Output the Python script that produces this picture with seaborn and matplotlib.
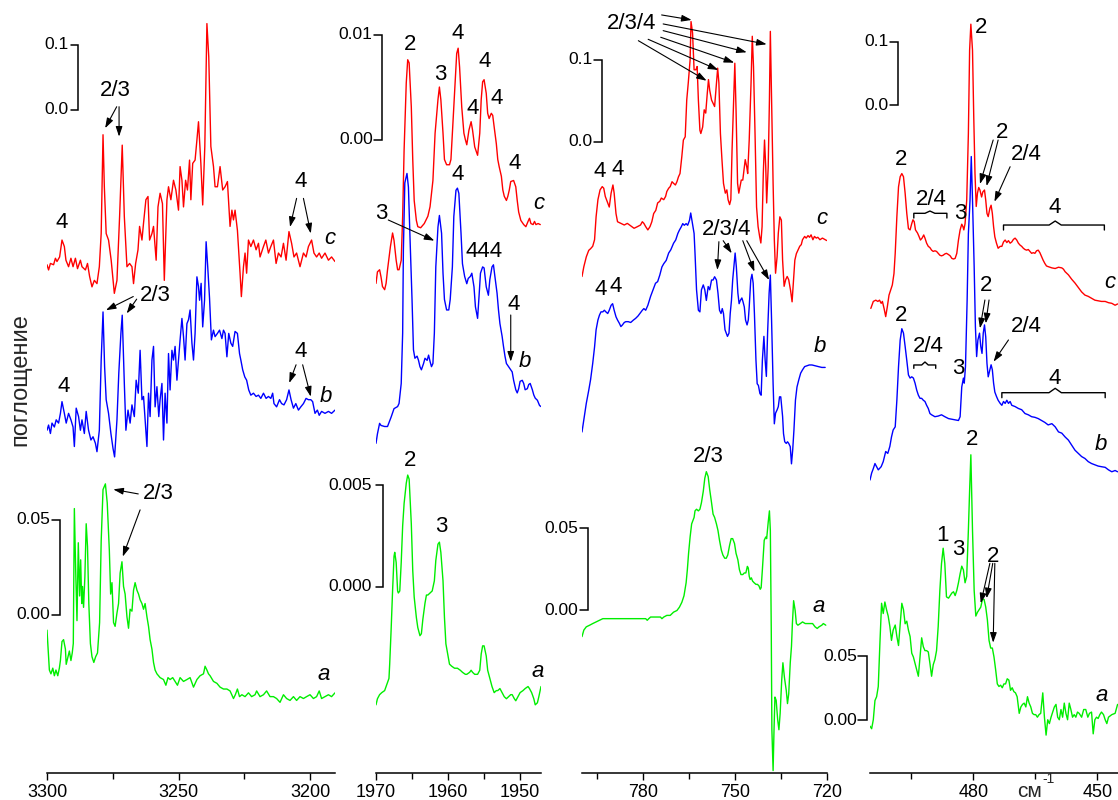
import numpy as np
import pandas as pd
import matplotlib
matplotlib.use("Agg")
import matplotlib.pyplot as plt
import seaborn as sns

sns.set_style("white")
plt.rcParams["font.family"] = ["Liberation Sans", "DejaVu Sans"]
plt.rcParams["axes.unicode_minus"] = False

# ---------------- 3300-3190 cm-1 region ----------------
ch_wn_c = [3300.0,3299.4,3298.7,3297.5,3296.8,3296.2,3295.2,3294.3,3293.4,3292.8,
           3291.8,3290.9,3290.1,3289.2,3288.4,3287.3,3286.7,3285.4,3284.6,3283.8,
           3282.9,3282.0,3281.0,3280.1,3279.4,3278.7,3278.2,3277.5,3276.6,3275.6,
           3274.4,3273.4,3272.4,3271.4,3270.6,3269.6,3268.6,3267.7,3267.1,3266.3,
           3265.4,3264.8,3263.9,3263.3,3262.4,3261.6,3261.0,3260.1,3259.5,3258.5,
           3257.8,3257.0,3256.1,3255.4,3254.4,3253.8,3252.9,3251.9,3251.0,3250.0,
           3249.4,3248.7,3248.1,3247.3,3246.6,3245.8,3245.3,3244.6,3243.7,3243.0,
           3242.4,3241.5,3240.8,3240.0,3239.2,3238.5,3237.7,3236.7,3236.1,3235.2,
           3234.2,3233.2,3232.3,3231.4,3230.4,3229.7,3229.1,3228.5,3227.6,3226.6,
           3226.1,3225.3,3224.7,3224.1,3223.4,3222.5,3221.5,3220.5,3219.6,3219.0,
           3217.7,3216.8,3215.8,3214.9,3213.9,3212.9,3212.0,3211.0,3210.1,3209.1,
           3208.0,3207.0,3206.1,3205.1,3203.8,3202.5,3201.5,3200.6,3199.4,3198.5,
           3197.5,3196.5,3195.6,3194.3,3193.0,3191.8,3190.5]
ch_c = [0.003,-0.005,0.005,0.003,0.013,0.008,0.015,0.041,0.031,0.010,
        0.0,0.013,0.0,0.013,-0.003,0.010,0.0,-0.005,0.005,-0.015,
        -0.031,-0.021,-0.026,0.0,0.051,0.203,0.123,0.051,0.041,0.010,
        -0.041,-0.021,0.077,0.187,0.077,0.0,0.005,0.0,-0.026,0.005,
        0.026,0.062,0.041,0.067,0.103,0.108,0.041,0.051,0.062,0.010,
        0.092,0.113,0.097,-0.021,0.103,0.123,0.103,0.133,0.118,0.087,
        0.154,0.133,0.092,0.133,0.118,0.164,0.103,0.159,0.164,0.195,
        0.223,0.159,0.095,0.185,0.374,0.323,0.185,0.154,0.123,0.123,
        0.154,0.118,0.123,0.131,0.062,0.087,0.072,0.087,0.056,-0.010,
        -0.046,0.0,0.021,-0.010,0.041,0.031,0.041,0.026,0.036,0.015,
        0.031,0.041,0.021,0.031,0.041,0.005,0.021,0.015,0.036,0.010,
        0.054,0.036,0.015,0.021,0.0,0.021,0.015,0.031,0.041,0.021,
        0.015,0.021,0.013,0.021,0.010,0.015,0.008]

ch_wn_b = [3300.0,3299.4,3298.7,3298.1,3297.2,3296.5,3295.6,3294.9,3294.3,3293.4,
           3292.7,3291.8,3290.9,3290.1,3289.6,3288.9,3288.0,3287.3,3286.7,3285.8,
           3285.1,3284.2,3283.3,3282.5,3281.6,3281.0,3280.1,3279.4,3278.7,3278.1,
           3277.5,3276.6,3275.7,3274.9,3274.3,3273.4,3272.7,3271.9,3271.4,3270.6,
           3270.0,3269.2,3268.4,3267.7,3266.8,3266.1,3265.3,3264.6,3263.9,3263.3,
           3262.7,3262.0,3261.4,3260.8,3260.1,3259.5,3258.9,3258.2,3257.5,3257.0,
           3256.3,3255.7,3255.1,3254.4,3253.8,3253.2,3252.5,3251.9,3251.3,3250.6,
           3250.0,3249.4,3248.7,3248.1,3247.5,3246.8,3246.2,3245.6,3244.9,3244.3,
           3243.7,3243.0,3242.4,3242.0,3241.4,3240.8,3240.1,3239.5,3238.9,3238.2,
           3237.5,3236.7,3236.1,3235.2,3234.4,3233.5,3232.9,3232.3,3231.6,3230.9,
           3230.1,3229.4,3228.5,3227.6,3226.8,3226.3,3225.6,3224.8,3224.1,3223.3,
           3222.5,3221.5,3220.5,3219.6,3218.7,3217.7,3216.7,3215.8,3214.9,3214.2,
           3213.7,3212.7,3211.6,3210.8,3209.9,3208.9,3208.0,3207.2,3206.3,3205.4,
           3204.4,3203.5,3202.5,3201.5,3200.6,3199.7,3199.0,3198.1,3197.2,3196.5,
           3195.6,3194.3,3193.0,3191.8,3190.5]
ch_b = [-0.026,-0.018,-0.031,-0.015,-0.021,-0.010,-0.015,0.0,0.018,0.0,
        -0.015,0.0,-0.010,-0.021,-0.051,0.008,-0.005,-0.026,-0.010,-0.031,
        0.003,-0.026,-0.041,-0.036,-0.046,-0.059,-0.026,0.082,0.156,0.072,
        0.021,0.0,-0.031,-0.054,-0.067,-0.010,0.062,0.123,0.151,0.046,
        -0.026,0.005,-0.015,0.013,-0.005,0.051,0.031,0.097,0.021,0.026,
        -0.010,-0.051,0.031,-0.005,0.082,0.103,0.010,0.041,-0.005,0.021,
        0.046,-0.041,0.031,-0.015,0.092,0.036,0.097,0.082,0.103,0.051,
        0.082,0.113,0.146,0.118,0.082,0.138,0.144,0.159,0.108,0.082,
        0.123,0.210,0.195,0.174,0.200,0.133,0.174,0.264,0.226,0.177,
        0.113,0.128,0.118,0.123,0.128,0.115,0.128,0.123,0.087,0.123,
        0.108,0.103,0.126,0.123,0.092,0.082,0.067,0.056,0.051,0.036,
        0.028,0.031,0.026,0.028,0.023,0.031,0.023,0.026,0.023,0.031,
        0.015,0.010,0.021,0.015,0.013,0.021,0.036,0.021,0.008,0.015,
        0.005,0.010,0.015,0.023,0.021,0.021,0.018,0.0,0.005,-0.003,
        0.003,0.0,0.003,0.0,0.005]

ch_wn_a = [3300.0,3299.6,3299.1,3298.5,3297.8,3297.2,3296.6,3295.9,3295.3,3294.9,
           3294.3,3293.7,3293.0,3292.7,3292.0,3291.5,3290.9,3290.4,3290.0,3289.6,
           3289.1,3288.6,3288.1,3287.6,3287.2,3286.8,3286.5,3286.1,3285.6,3285.1,
           3284.6,3284.1,3283.5,3282.9,3282.2,3281.5,3280.8,3280.0,3279.4,3278.7,
           3277.8,3277.1,3276.3,3275.8,3275.3,3274.7,3274.1,3273.4,3272.8,3272.2,
           3271.5,3270.9,3270.3,3269.6,3269.0,3268.4,3267.7,3267.1,3266.5,3265.8,
           3265.2,3264.6,3263.9,3263.3,3262.7,3262.0,3261.4,3260.8,3260.1,3259.5,
           3258.9,3258.2,3257.0,3255.7,3254.8,3254.0,3253.2,3252.2,3251.3,3250.4,
           3249.4,3248.1,3246.8,3245.6,3244.3,3243.0,3241.8,3240.5,3239.9,3239.2,
           3238.6,3238.0,3236.7,3235.4,3234.2,3232.9,3231.6,3230.4,3229.1,3228.4,
           3227.6,3226.8,3225.9,3224.7,3223.4,3222.2,3220.9,3220.3,3219.0,3217.7,
           3216.5,3215.2,3213.9,3212.7,3211.4,3210.1,3208.9,3207.6,3206.3,3205.1,
           3203.8,3202.5,3201.3,3200.0,3198.7,3197.5,3196.5,3195.6,3194.3,3193.0,
           3191.8,3190.5]
ch_a = [0.035,0.026,0.014,0.012,0.015,0.011,0.014,0.011,0.015,0.019,
        0.029,0.030,0.025,0.017,0.021,0.024,0.019,0.023,0.028,0.099,
        0.067,0.040,0.081,0.053,0.072,0.049,0.058,0.047,0.063,0.091,
        0.079,0.049,0.028,0.021,0.018,0.021,0.023,0.039,0.082,0.109,
        0.112,0.102,0.077,0.054,0.060,0.039,0.037,0.044,0.049,0.065,
        0.071,0.058,0.054,0.042,0.036,0.046,0.045,0.056,0.060,0.056,
        0.054,0.051,0.049,0.046,0.049,0.042,0.037,0.030,0.025,0.018,
        0.014,0.012,0.010,0.009,0.006,0.010,0.009,0.010,0.008,0.006,
        0.010,0.008,0.009,0.010,0.005,0.009,0.011,0.012,0.016,0.014,
        0.012,0.011,0.008,0.007,0.005,0.004,0.004,0.003,-0.001,0.001,
        0.004,0.0,0.001,0.0,0.002,0.0,0.001,0.003,0.0,0.001,
        0.003,0.0,0.0,-0.001,-0.003,0.001,-0.001,-0.002,0.0,-0.002,
        0.0,-0.001,0.0,0.001,-0.001,0.0,0.003,-0.001,0.0,0.001,
        0.0,0.002]

# ---------------- 1970-1947 cm-1 region ----------------
co_wn_c = [1970.0,1969.8,1969.5,1969.3,1969.1,1968.8,1968.6,1968.4,1968.0,1967.7,
           1967.5,1967.2,1967.0,1966.8,1966.5,1966.3,1966.1,1965.8,1965.6,1965.4,
           1965.1,1964.9,1964.7,1964.4,1964.2,1963.8,1963.3,1962.8,1962.5,1962.1,
           1961.8,1961.4,1961.2,1961.0,1960.7,1960.5,1960.2,1959.8,1959.6,1959.4,
           1959.1,1958.8,1958.6,1958.4,1958.1,1957.8,1957.6,1957.4,1957.1,1956.8,
           1956.6,1956.3,1955.9,1955.6,1955.4,1955.2,1955.0,1954.7,1954.5,1954.3,
           1954.0,1953.8,1953.6,1953.3,1953.1,1952.9,1952.6,1952.4,1952.2,1951.9,
           1951.7,1951.5,1951.3,1950.9,1950.6,1950.4,1950.2,1949.9,1949.5,1949.2,
           1948.9,1948.7,1948.5,1948.2,1948.0,1947.8,1947.5,1947.2]
co_c = [-0.0054,-0.0043,-0.0041,-0.0048,-0.0057,-0.0060,-0.0054,-0.0041,-0.0019,-0.0006,
        -0.0013,-0.0032,-0.0041,-0.0041,-0.0032,0.0010,0.0073,0.0137,0.0159,0.0156,
        0.0114,0.0064,0.0025,0.0006,0.0,-0.0001,0.0003,0.0010,0.0019,0.0044,
        0.0089,0.0121,0.0133,0.0121,0.0089,0.0064,0.0059,0.0059,0.0064,0.0089,
        0.0127,0.0165,0.0170,0.0152,0.0114,0.0089,0.0083,0.0078,0.0092,0.0100,
        0.0092,0.0076,0.0068,0.0089,0.0121,0.0138,0.0140,0.0127,0.0108,0.0103,
        0.0108,0.0106,0.0095,0.0079,0.0064,0.0057,0.0048,0.0035,0.0029,0.0025,
        0.0029,0.0035,0.0043,0.0044,0.0038,0.0025,0.0014,0.0006,0.0002,0.0,
        0.0005,0.0008,0.0003,0.0002,0.0005,0.0002,0.0003,0.0002]

co_wn_b = [1970.0,1969.8,1969.5,1969.3,1968.8,1968.4,1967.9,1967.5,1967.0,1966.8,
           1966.5,1966.3,1966.2,1966.0,1965.7,1965.5,1965.3,1965.0,1964.8,1964.6,
           1964.3,1964.1,1963.9,1963.7,1963.4,1963.2,1962.9,1962.7,1962.5,1962.3,
           1962.1,1961.9,1961.7,1961.4,1961.2,1960.9,1960.7,1960.5,1960.2,1959.9,
           1959.7,1959.4,1959.2,1958.9,1958.7,1958.5,1958.2,1958.0,1957.7,1957.4,
           1957.2,1956.9,1956.7,1956.4,1956.2,1955.9,1955.7,1955.5,1955.2,1955.0,
           1954.7,1954.4,1954.2,1953.9,1953.7,1953.5,1953.2,1953.0,1952.8,1952.5,
           1952.3,1952.1,1951.9,1951.6,1951.4,1951.1,1950.9,1950.6,1950.4,1950.2,
           1950.0,1949.7,1949.5,1949.3,1949.0,1948.8,1948.6,1948.3,1948.1,1947.9,
           1947.6,1947.3,1947.1]
co_b = [-0.0073,-0.0064,-0.0054,-0.0056,-0.0057,-0.0057,-0.0048,-0.0040,-0.0038,-0.0035,
        -0.0016,0.0032,0.0111,0.0175,0.0184,0.0171,0.0127,0.0064,0.0016,0.0008,
        0.0010,0.0006,0.0,-0.0003,0.0003,0.0008,0.0006,0.0011,0.0005,0.0,
        0.0003,0.0032,0.0095,0.0133,0.0144,0.0127,0.0089,0.0064,0.0054,0.0054,
        0.0064,0.0095,0.0143,0.0168,0.0170,0.0165,0.0127,0.0098,0.0086,0.0079,
        0.0084,0.0086,0.0089,0.0076,0.0057,0.0046,0.0067,0.0089,0.0095,0.0094,
        0.0076,0.0068,0.0083,0.0095,0.0097,0.0086,0.0070,0.0054,0.0041,0.0029,
        0.0019,0.0010,0.0003,0.0,-0.0002,-0.0005,-0.0013,-0.0022,-0.0025,-0.0021,
        -0.0014,-0.0013,-0.0016,-0.0022,-0.0021,-0.0017,-0.0016,-0.0022,-0.0027,-0.0030,
        -0.0032,-0.0037,-0.0038]

co_wn_a = [1970.0,1969.8,1969.5,1969.2,1968.8,1968.5,1968.2,1968.1,1967.9,1967.7,
           1967.5,1967.4,1967.2,1967.0,1966.9,1966.7,1966.5,1966.3,1966.1,1965.8,
           1965.6,1965.4,1965.1,1964.9,1964.7,1964.4,1964.2,1963.9,1963.7,1963.5,
           1963.2,1963.0,1962.8,1962.5,1962.2,1961.9,1961.7,1961.4,1961.2,1961.0,
           1960.7,1960.5,1960.3,1960.0,1959.8,1959.5,1959.1,1958.7,1958.3,1958.0,
           1957.6,1957.4,1957.0,1956.8,1956.6,1956.3,1955.9,1955.6,1955.4,1955.2,
           1955.0,1954.7,1954.5,1954.2,1953.9,1953.6,1953.3,1953.1,1952.8,1952.5,
           1952.2,1951.9,1951.6,1951.3,1951.1,1950.8,1950.6,1950.3,1950.0,1949.6,
           1949.3,1948.9,1948.7,1948.4,1948.1,1947.9,1947.6,1947.4,1947.1]
co_a = [-0.0004,-0.0001,0.0001,0.0002,0.0003,0.0006,0.0009,0.0016,0.0033,0.0052,
        0.0069,0.0071,0.0066,0.0052,0.0051,0.0052,0.0066,0.0084,0.0095,0.0105,
        0.0109,0.0107,0.0085,0.0062,0.0049,0.0039,0.0034,0.0030,0.0031,0.0038,
        0.0046,0.0050,0.0050,0.0051,0.0052,0.0057,0.0067,0.0075,0.0076,0.0071,
        0.0057,0.0039,0.0026,0.0020,0.0016,0.0015,0.0014,0.0014,0.0013,0.0012,
        0.0011,0.0011,0.0012,0.0013,0.0012,0.0011,0.0011,0.0013,0.0021,0.0025,
        0.0025,0.0020,0.0013,0.0009,0.0005,0.0002,0.0003,0.0003,0.0004,0.0002,
        0.0,-0.0001,0.0,0.0001,0.0001,-0.0001,-0.0002,0.0,0.0002,0.0003,
        0.0004,0.0005,0.0004,0.0002,-0.0001,-0.0004,-0.0003,0.0,0.0005]

# ---------------- 800-720 cm-1 region ----------------
cf_wn_c = [800.0,799.4,798.6,797.8,797.2,796.5,795.9,795.4,794.8,794.1,
           793.4,792.9,792.4,791.6,791.1,790.5,789.9,789.5,788.9,788.4,
           787.3,786.2,785.2,784.1,783.0,781.9,780.9,780.3,779.8,779.2,
           778.5,777.8,777.2,776.6,775.9,775.3,774.6,774.1,773.3,772.7,
           772.3,771.7,771.2,770.6,770.1,769.5,769.0,768.5,768.0,767.4,
           766.9,766.3,765.8,765.3,764.7,764.4,763.9,763.4,762.8,762.4,
           762.0,761.5,761.2,760.6,760.1,759.6,759.1,758.7,758.3,757.7,
           757.2,756.7,756.1,755.7,755.3,754.8,754.3,753.8,753.2,752.7,
           752.3,751.8,751.4,751.0,750.5,750.1,749.7,749.2,748.8,748.4,
           748.0,747.5,747.1,746.7,746.2,745.9,745.4,744.8,744.4,744.0,
           743.5,743.0,742.5,742.0,741.6,741.2,740.8,740.4,740.0,739.7,
           739.2,738.8,738.5,738.1,737.6,737.2,736.8,736.3,735.9,735.4,
           734.9,734.5,734.0,733.5,733.0,732.5,731.9,731.4,731.0,730.5,
           730.0,729.5,728.9,728.4,728.0,727.3,726.8,726.2,725.7,725.2,
           724.6,724.1,723.5,723.0,722.3,721.5,720.6,720.1]
cf_c = [-0.061,-0.049,-0.037,-0.029,-0.027,-0.024,-0.016,0.012,0.033,0.045,
        0.049,0.047,0.037,0.029,0.024,0.041,0.051,0.041,0.016,0.006,
        0.004,0.002,0.004,0.001,-0.002,0.0,0.002,0.006,0.004,0.0,
        -0.004,0.0,0.006,0.016,0.020,0.029,0.031,0.035,0.033,0.037,
        0.043,0.047,0.049,0.055,0.053,0.051,0.055,0.061,0.065,0.086,
        0.106,0.110,0.155,0.176,0.204,0.251,0.237,0.192,0.192,0.196,
        0.155,0.118,0.114,0.122,0.143,0.139,0.163,0.180,0.167,0.155,
        0.151,0.147,0.176,0.194,0.176,0.114,0.082,0.053,0.041,0.045,
        0.033,0.027,0.033,0.094,0.155,0.200,0.143,0.053,0.041,0.049,
        0.057,0.057,0.069,0.082,0.073,0.065,0.106,0.176,0.233,0.196,
        0.114,0.024,0.0,-0.012,-0.020,0.0,0.065,0.106,0.073,0.029,
        0.073,0.155,0.239,0.155,0.053,-0.016,-0.057,-0.037,-0.008,0.012,
        0.008,-0.041,-0.073,-0.065,-0.061,-0.065,-0.078,-0.092,-0.069,-0.041,
        -0.033,-0.029,-0.024,-0.022,-0.016,-0.012,-0.014,-0.011,-0.013,-0.010,
        -0.016,-0.012,-0.014,-0.013,-0.016,-0.014,-0.016,-0.017]

cf_wn_b = [800.0,799.4,798.6,797.8,797.2,796.5,795.9,795.4,794.8,794.3,
           793.8,793.2,792.7,792.2,791.6,791.1,790.5,790.0,789.5,788.9,
           788.4,787.8,787.3,786.8,786.2,785.7,784.9,784.1,783.2,782.5,
           781.7,781.1,780.3,779.8,779.2,778.5,777.6,776.8,776.0,775.3,
           774.6,773.9,773.3,772.5,771.7,771.0,770.1,769.4,768.7,768.2,
           767.6,767.1,766.6,766.0,765.5,764.9,764.5,764.1,763.4,763.1,
           762.6,762.0,761.5,761.0,760.4,759.9,759.4,758.8,758.3,757.7,
           757.2,756.7,756.1,755.6,755.1,754.6,754.2,753.8,753.3,752.9,
           752.5,752.0,751.6,751.2,750.8,750.3,750.0,749.6,749.1,748.7,
           748.3,747.8,747.4,747.0,746.6,746.1,745.7,745.4,744.9,744.5,
           744.1,743.7,743.2,742.8,742.4,741.9,741.5,741.1,740.6,740.2,
           739.8,739.4,738.9,738.5,738.1,737.6,737.2,736.8,736.3,735.9,
           735.5,735.1,734.5,734.2,733.8,733.3,732.9,732.5,732.0,731.6,
           731.2,730.8,730.3,729.8,729.2,728.6,728.0,727.3,726.6,725.8,
           724.9,723.9,722.8,721.7,720.6]
cf_b = [-0.137,-0.122,-0.102,-0.086,-0.073,-0.053,-0.033,-0.012,0.0,0.006,
        0.010,0.010,0.012,0.010,0.008,0.012,0.018,0.020,0.012,0.004,
        0.0,-0.004,-0.008,-0.006,-0.003,-0.002,-0.002,-0.003,0.0,0.002,
        0.005,0.008,0.012,0.014,0.012,0.018,0.029,0.037,0.045,0.047,
        0.055,0.065,0.069,0.073,0.082,0.086,0.094,0.098,0.106,0.110,
        0.114,0.118,0.116,0.118,0.116,0.122,0.131,0.122,0.106,0.082,
        0.037,0.012,0.010,0.037,0.043,0.037,0.024,0.041,0.037,0.049,
        0.049,0.053,0.049,0.033,0.012,0.008,0.014,0.008,-0.012,-0.016,
        -0.020,-0.016,0.008,0.024,0.049,0.069,0.082,0.065,0.033,0.020,
        0.024,0.027,0.022,0.016,0.0,-0.006,0.0,0.016,0.049,0.056,
        0.045,0.008,-0.049,-0.078,-0.080,-0.090,-0.092,-0.049,-0.020,-0.049,
        -0.069,-0.016,0.033,0.055,0.0,-0.078,-0.127,-0.114,-0.110,-0.106,
        -0.094,-0.094,-0.118,-0.139,-0.149,-0.151,-0.149,-0.151,-0.155,-0.176,
        -0.159,-0.135,-0.098,-0.082,-0.073,-0.065,-0.061,-0.057,-0.056,-0.055,
        -0.055,-0.056,-0.057,-0.058,-0.058]

cf_wn_a = [800.0,799.4,798.6,797.5,796.5,795.4,794.3,793.2,792.2,791.1,
           790.0,788.9,787.8,786.8,785.7,784.6,783.5,782.5,781.4,780.3,
           779.2,778.7,778.2,777.6,776.6,775.5,774.4,773.9,773.3,772.3,
           771.2,770.1,769.0,768.2,767.4,766.7,766.0,765.6,765.2,764.7,
           764.2,763.4,763.1,762.6,762.0,761.5,761.0,760.4,759.9,759.4,
           758.8,758.3,757.7,757.2,756.7,756.1,755.6,755.1,754.5,754.0,
           753.4,752.9,752.4,751.8,751.3,750.8,750.2,749.7,749.1,748.6,
           748.1,747.5,747.0,746.5,746.0,745.7,745.4,745.1,744.7,744.3,
           743.8,743.2,742.7,742.2,741.8,741.5,741.1,740.5,740.0,739.7,
           739.2,738.8,738.5,738.2,738.0,737.6,737.3,737.0,736.6,736.1,
           735.7,735.3,734.8,734.4,733.9,733.3,732.9,732.5,732.0,731.6,
           731.3,730.9,730.4,730.0,729.5,728.7,728.0,727.1,726.2,725.5,
           724.7,723.9,723.2,722.6,721.7,721.2,720.4]
cf_a = [-0.011,-0.007,-0.005,-0.004,-0.003,-0.002,-0.001,0.0,0.0,0.0,
        0.0,0.0,0.0,0.0,0.0,0.0,0.0,0.0,0.0,0.0,
        0.0,-0.001,0.0,0.001,0.001,0.001,0.001,0.0,0.001,0.002,
        0.002,0.004,0.005,0.007,0.010,0.014,0.022,0.030,0.040,0.050,
        0.058,0.062,0.066,0.067,0.066,0.067,0.071,0.078,0.086,0.090,
        0.087,0.079,0.071,0.064,0.062,0.058,0.054,0.048,0.042,0.039,
        0.037,0.037,0.039,0.045,0.049,0.049,0.046,0.040,0.036,0.030,
        0.027,0.027,0.028,0.028,0.032,0.031,0.026,0.024,0.025,0.023,
        0.022,0.021,0.021,0.020,0.018,0.019,0.030,0.048,0.050,0.049,
        0.059,0.066,0.054,-0.007,-0.068,-0.093,-0.068,-0.048,-0.050,-0.062,
        -0.068,-0.058,-0.038,-0.027,-0.036,-0.044,-0.052,-0.046,-0.027,-0.017,
        -0.003,0.011,0.005,-0.003,-0.004,-0.003,-0.002,-0.003,-0.003,-0.003,
        -0.003,-0.005,-0.006,-0.005,-0.004,-0.003,-0.004]

# ---------------- 505-445 cm-1 region ----------------
low_wn_c = [504.8,504.2,503.6,503.1,502.7,502.3,502.0,501.6,501.2,500.8,
            500.4,500.0,499.6,499.2,498.9,498.5,498.1,497.7,497.3,496.9,
            496.5,496.1,495.7,495.3,494.9,494.6,494.3,494.0,493.5,493.1,
            492.8,492.4,492.0,491.7,491.3,490.9,490.5,490.1,489.7,489.3,
            488.9,488.5,488.1,487.7,487.3,486.9,486.5,486.0,485.6,485.2,
            484.8,484.4,484.0,483.6,483.2,482.8,482.5,482.3,482.0,481.6,
            481.2,480.9,480.6,480.2,479.9,479.6,479.3,479.0,478.7,478.4,
            478.0,477.7,477.3,477.0,476.7,476.4,476.0,475.7,475.4,475.1,
            474.8,474.4,474.0,473.5,473.1,472.7,472.3,471.9,471.5,471.1,
            470.7,470.3,469.9,469.5,469.1,468.7,468.3,467.9,467.5,467.1,
            466.7,466.3,465.9,465.5,465.1,464.7,464.3,463.9,463.5,463.1,
            462.7,462.3,461.9,461.0,460.2,459.4,458.6,458.2,457.8,457.0,
            456.2,455.4,454.6,453.8,453.0,452.2,451.4,450.6,449.8,449.0,
            448.1,447.3,446.5,445.7,445.1]
low_c = [-0.087,-0.076,-0.074,-0.076,-0.074,-0.079,-0.076,-0.087,-0.100,-0.084,
         -0.066,-0.058,-0.050,-0.032,0.0,0.058,0.105,0.121,0.126,0.121,
         0.095,0.063,0.039,0.037,0.047,0.053,0.050,0.037,0.032,0.026,
         0.021,0.024,0.029,0.024,0.016,0.011,0.009,0.005,0.003,0.004,
         0.003,0.0,-0.003,-0.004,-0.003,-0.001,0.0,-0.002,-0.004,-0.008,
         -0.009,-0.008,0.0,0.021,0.037,0.046,0.042,0.037,0.047,0.084,
         0.189,0.321,0.362,0.321,0.216,0.126,0.074,0.095,0.104,0.100,
         0.089,0.097,0.100,0.084,0.063,0.058,0.071,0.076,0.063,0.042,
         0.026,0.016,0.008,0.011,0.011,0.018,0.021,0.017,0.020,0.016,
         0.018,0.022,0.024,0.021,0.016,0.013,0.011,0.008,0.006,0.005,
         0.006,0.003,0.0,0.001,0.0,0.004,0.005,0.001,-0.005,-0.011,
         -0.016,-0.020,-0.021,-0.023,-0.024,-0.022,-0.023,-0.025,-0.029,-0.034,
         -0.041,-0.047,-0.054,-0.061,-0.066,-0.068,-0.071,-0.074,-0.075,-0.076,
         -0.076,-0.078,-0.079,-0.082,-0.080]

low_wn_b = [505.0,504.6,504.2,503.8,503.4,503.0,502.3,501.8,501.2,500.7,
            500.2,499.8,499.4,498.9,498.5,498.1,497.7,497.3,496.9,496.5,
            496.1,495.7,495.3,494.9,494.5,494.1,493.7,493.3,492.9,492.5,
            492.1,491.7,491.3,490.9,490.5,490.1,489.3,488.5,487.7,486.9,
            486.0,485.2,484.4,483.6,483.2,482.8,482.4,482.2,481.9,481.5,
            481.2,480.8,480.5,480.2,479.8,479.5,479.2,478.9,478.5,478.2,
            477.9,477.6,477.3,477.0,476.7,476.4,476.0,475.7,475.4,475.1,
            474.8,474.4,474.0,473.5,473.1,472.7,472.3,471.9,471.5,471.1,
            470.7,469.9,469.1,468.3,467.5,466.7,465.9,465.1,464.3,463.5,
            462.7,461.9,461.0,460.2,459.4,458.6,457.8,457.0,456.2,455.4,
            454.6,453.8,453.0,452.2,451.4,450.6,449.8,449.0,448.1,447.3,
            446.5,445.7,445.1]
low_b = [-0.100,-0.089,-0.082,-0.074,-0.079,-0.084,-0.079,-0.071,-0.055,-0.058,
         -0.047,-0.032,-0.021,-0.016,0.026,0.079,0.121,0.139,0.132,0.111,
         0.089,0.066,0.061,0.063,0.061,0.053,0.042,0.034,0.029,0.029,
         0.026,0.024,0.018,0.013,0.005,0.003,0.0,0.001,0.003,0.0,
         -0.003,-0.004,-0.005,-0.006,0.0,0.047,0.061,0.053,0.079,0.184,
         0.289,0.342,0.411,0.342,0.237,0.142,0.095,0.121,0.132,0.111,
         0.100,0.132,0.145,0.126,0.084,0.063,0.074,0.082,0.074,0.053,
         0.039,0.032,0.026,0.021,0.018,0.024,0.021,0.026,0.021,0.024,
         0.018,0.016,0.013,0.011,0.005,0.003,0.0,-0.001,-0.003,-0.006,
         -0.009,-0.013,-0.011,-0.016,-0.024,-0.026,-0.032,-0.037,-0.045,-0.053,
         -0.058,-0.063,-0.066,-0.071,-0.074,-0.076,-0.078,-0.079,-0.080,-0.084,
         -0.087,-0.085,-0.087]

low_wn_a = [505.0,504.6,504.2,503.8,503.4,503.0,502.6,502.2,501.8,501.4,
            501.0,500.6,500.2,499.8,499.4,498.9,498.5,498.1,497.7,497.3,
            496.9,496.5,496.1,495.7,495.3,494.9,494.5,494.1,493.7,493.3,
            492.9,492.5,492.1,491.7,491.3,490.9,490.5,490.1,489.7,489.3,
            488.9,488.5,488.1,487.7,487.3,486.9,486.5,486.0,485.6,485.2,
            484.8,484.4,484.0,483.6,483.2,482.8,482.4,482.0,481.6,481.2,
            480.9,480.6,480.2,479.8,479.4,479.0,478.6,478.2,477.8,477.4,
            477.0,476.6,476.2,475.8,475.4,475.0,474.6,474.2,473.8,473.4,
            473.0,472.6,472.2,471.8,471.4,471.0,470.6,470.2,469.8,469.4,
            468.9,468.5,468.1,467.7,467.3,466.9,466.5,466.1,465.7,465.3,
            464.9,464.5,464.1,463.7,463.2,462.8,462.4,462.0,461.6,461.2,
            460.8,460.4,460.0,459.6,459.2,458.8,458.4,458.0,457.6,457.2,
            456.8,456.4,456.0,455.6,455.2,454.8,454.4,453.8,453.3,452.8,
            452.3,451.9,451.4,451.0,450.6,450.2,449.8,449.4,449.0,448.5,
            448.1,447.7,447.3,446.5,445.7,445.1]
low_a = [-0.010,-0.012,-0.005,0.010,0.013,0.021,0.055,0.086,0.078,0.087,
         0.081,0.076,0.068,0.057,0.065,0.069,0.060,0.053,0.070,0.086,
         0.081,0.070,0.072,0.065,0.060,0.047,0.044,0.039,0.034,0.029,
         0.044,0.059,0.052,0.049,0.049,0.048,0.039,0.029,0.038,0.042,
         0.049,0.068,0.096,0.117,0.129,0.117,0.091,0.090,0.092,0.094,
         0.095,0.092,0.096,0.102,0.109,0.115,0.112,0.102,0.107,0.143,
         0.174,0.202,0.143,0.096,0.076,0.079,0.081,0.083,0.089,0.089,
         0.083,0.073,0.057,0.051,0.051,0.044,0.034,0.023,0.021,0.022,
         0.020,0.023,0.023,0.027,0.026,0.018,0.020,0.017,0.016,0.013,
         0.0,0.005,0.007,0.008,0.005,0.013,0.008,0.005,0.0,-0.001,
         -0.001,-0.003,-0.001,0.0,0.016,-0.003,-0.017,-0.005,-0.008,-0.003,
         0.001,0.005,0.007,-0.003,-0.005,0.003,-0.003,0.008,0.0,-0.005,
         0.008,0.003,-0.003,-0.001,-0.003,0.001,0.0,-0.003,0.003,0.003,
         -0.003,0.0,0.001,-0.016,-0.005,-0.003,-0.004,-0.001,0.001,-0.001,
         -0.005,-0.008,-0.003,-0.001,0.0,0.007]

# ---------------- figure layout ----------------
RED, BLUE, GREEN = "#ff0000", "#0000ff", "#00ee00"
FIG_W, FIG_H = 1118, 800
AX_BOTTOM_PX = 773
NUM_FS, SCALE_FS, TICK_FS = 16, 12.5, 13

panels = [
    dict(px=(47, 335), xlim=(3300, 3190.5), major=[3300, 3250, 3200], minor=[3275, 3225],
         ylim_top=(-1.020, 0.1692), ylim_bot=(-0.0832, 0.3237),
         spectra=[("top", ch_wn_c, ch_c, -0.2411, RED), ("top", ch_wn_b, ch_b, -0.4667, BLUE),
                  ("bot", ch_wn_a, ch_a, -0.0430, GREEN)],
         bars=[("top", 0.0, 0.1, "0.0", "0.1", 0.1087, 0.0833, 0.074),
               ("bot", 0.0, 0.05, "0.00", "0.05", 0.0451, 0.0180, 0.010)]),
    dict(px=(376, 541), xlim=(1970, 1947.1), major=[1970, 1960, 1950], minor=[1965, 1955],
         ylim_top=(-0.06029, 0.01333), ylim_bot=(-0.009163, 0.028854),
         spectra=[("top", co_wn_c, co_c, -0.00826, RED), ("top", co_wn_b, co_b, -0.02159, BLUE),
                  ("bot", co_wn_a, co_a, -0.00541, GREEN)],
         bars=[("top", 0.0, 0.01, "0.00", "0.01", 0.0345, -0.010, -0.020),
               ("bot", 0.0, 0.005, "0.000", "0.005", 0.0442, -0.002, -0.026)]),
    dict(px=(582, 827), xlim=(800, 720), major=[780, 750, 720], minor=[795, 765, 735],
         ylim_top=(-0.7727, 0.1734), ylim_bot=(-0.0998, 0.3735),
         spectra=[("top", cf_wn_c, cf_c, -0.1040, RED), ("top", cf_wn_b, cf_b, -0.2183, BLUE),
                  ("bot", cf_wn_a, cf_a, -0.0053, GREEN)],
         bars=[("top", 0.0, 0.1, "0.0", "0.1", 0.0804, 0.0502, 0.042),
               ("bot", 0.0, 0.05, "0.00", "0.05", 0.0233, -0.0082, -0.014)]),
    dict(px=(870, 1118), xlim=(505, 445), major=[480, 450], minor=[495, 465],
         ylim_top=(-1.0553, 0.1659), ylim_bot=(-0.0414, 0.5625),
         spectra=[("top", low_wn_c, low_c, -0.2343, RED), ("top", low_wn_b, low_b, -0.4924, BLUE),
                  ("bot", low_wn_a, low_a, 0.0052, GREEN)],
         bars=[("top", 0.0, 0.1, "0.0", "0.1", 0.1117, 0.0806, 0.0738),
               ("bot", 0.0, 0.05, "0.00", "0.05", -0.0133, -0.0472, -0.052)]),
]

# peak labels: (axes, text, wavenumber, absorbance, italic)
labels = [
    [("top", "4", 3294.4, -0.173, False), ("top", "2/3", 3273.9, 0.0297, False),
     ("top", "4", 3203.4, -0.110, False), ("top", "c", 3192.4, -0.197, True),
     ("top", "4", 3293.8, -0.426, False), ("top", "2/3", 3258.9, -0.286, False),
     ("top", "4", 3203.4, -0.372, False), ("top", "b", 3193.9, -0.441, True),
     ("bot", "2/3", 3257.7, 0.064, False), ("bot", "a", 3194.9, -0.0316, True)],
    [("top", "2", 1965.3, 0.00905, False), ("top", "4", 1958.6, 0.01016, False),
     ("top", "3", 1961.1, 0.00619, False), ("top", "4", 1954.9, 0.00746, False),
     ("top", "4", 1956.6, 0.00302, False), ("top", "4", 1953.3, 0.00397, False),
     ("top", "4", 1950.8, -0.00222, False), ("top", "c", 1947.4, -0.00603, True),
     ("top", "4", 1958.7, -0.00333, False), ("top", "3", 1969.3, -0.00698, False),
     ("top", "444", 1955.0, -0.01064, False), ("top", "4", 1950.9, -0.01571, False),
     ("top", "b", 1949.3, -0.02111, True),
     ("bot", "2", 1965.3, 0.00623, False), ("bot", "3", 1961.0, 0.00295, False),
     ("bot", "a", 1947.5, -0.00418, True)],
    [("top", "2/3/4", 783.8, 0.1441, False), ("top", "4", 794.1, -0.0367, False),
     ("top", "4", 788.3, -0.0346, False), ("top", "c", 721.7, -0.0938, True),
     ("top", "2/3/4", 752.8, -0.1072, False), ("top", "4", 793.8, -0.1815, False),
     ("top", "4", 789.0, -0.1775, False), ("top", "b", 722.3, -0.2509, True),
     ("bot", "2/3", 758.8, 0.0939, False), ("bot", "a", 722.8, 0.0020, True)],
    [("top", "2", 478.1, 0.1227, False), ("top", "2", 497.5, -0.0858, False),
     ("top", "2/4", 490.2, -0.149, False), ("top", "3", 483.2, -0.1711, False),
     ("top", "2", 473.1, -0.0437, False), ("top", "2/4", 467.1, -0.0774, False),
     ("top", "4", 460.2, -0.1616, False), ("top", "c", 446.9, -0.2807, True),
     ("top", "2", 497.5, -0.3318, False), ("top", "2/4", 490.9, -0.3818, False),
     ("top", "3", 483.6, -0.416, False), ("top", "2", 476.8, -0.2859, False),
     ("top", "2/4", 467.1, -0.3502, False), ("top", "4", 460.2, -0.4318, False),
     ("top", "b", 449.1, -0.5371, True),
     ("bot", "2", 480.4, 0.2188, False), ("bot", "1", 487.4, 0.1438, False),
     ("bot", "3", 483.6, 0.1333, False), ("bot", "2", 475.2, 0.1281, False),
     ("bot", "a", 448.9, 0.0195, True)],
]

# pointer arrows: (axes, wn_from, A_from, wn_to, A_to)
arrows = [
    [("top", 3273.5, 0.005, 3277.9, -0.028), ("top", 3272.6, 0.005, 3272.6, -0.041),
     ("top", 3205.1, -0.136, 3207.6, -0.180), ("top", 3202.5, -0.136, 3199.7, -0.190),
     ("top", 3267.2, -0.287, 3277.6, -0.308), ("top", 3265.9, -0.291, 3269.7, -0.313),
     ("top", 3205.3, -0.392, 3207.9, -0.420), ("top", 3202.8, -0.392, 3199.7, -0.441),
     ("bot", 3265.3, 0.0637, 3274.8, 0.0661), ("bot", 3264.6, 0.0553, 3271.2, 0.0307)],
    [("top", 1968.3, -0.00762, 1961.9, -0.00959), ("top", 1951.3, -0.01667, 1951.3, -0.02111)],
    [("top", 774.0, 0.1551, 764.2, 0.1490), ("top", 773.5, 0.1441, 739.7, 0.1192),
     ("top", 773.5, 0.1359, 746.2, 0.1094), ("top", 774.3, 0.1278, 750.3, 0.0967),
     ("top", 778.4, 0.1253, 755.5, 0.0878), ("top", 781.6, 0.1236, 759.3, 0.0746),
     ("top", 755.3, -0.1224, 755.8, -0.1570), ("top", 753.9, -0.1212, 751.1, -0.1366),
     ("top", 747.5, -0.1212, 743.7, -0.1591), ("top", 746.2, -0.1212, 738.9, -0.1693)],
    [("top", 475.2, -0.0553, 478.4, -0.1248), ("top", 474.0, -0.0553, 476.8, -0.128),
     ("top", 471.1, -0.0975, 474.9, -0.1528), ("top", 477.2, -0.308, 478.4, -0.3528),
     ("top", 476.2, -0.308, 477.0, -0.345), ("top", 471.5, -0.3712, 475.1, -0.4055),
     ("bot", 476.0, 0.1224, 478.2, 0.0912), ("bot", 475.3, 0.1224, 476.8, 0.0951),
     ("bot", 474.8, 0.1224, 475.2, 0.0604)],
]

# band-range braces in the 505-445 cm-1 panel: (wn_left, wn_right, wn_mid, A_line, A_ends, A_peak)
braces = [(494.4, 486.4, 490.5, -0.1711, -0.1785, -0.1675),
          (472.7, 448.3, 460.2, -0.1896, -0.1975, -0.1833),
          (494.4, 489.1, 491.7, -0.4107, -0.4160, -0.4060),
          (473.1, 448.1, 460.2, -0.4545, -0.4624, -0.4476)]

fig = plt.figure(figsize=(FIG_W / 100, FIG_H / 100), dpi=100)
fig.patch.set_facecolor("white")

arrow_style = dict(arrowstyle="-|>,head_length=0.6,head_width=0.2", color="black",
                   lw=0.8, shrinkA=0, shrinkB=0)

for i, p in enumerate(panels):
    x0, x1 = p["px"]
    rect = [x0 / FIG_W, (FIG_H - AX_BOTTOM_PX) / FIG_H, (x1 - x0) / FIG_W, AX_BOTTOM_PX / FIG_H]
    ax_bot = fig.add_axes(rect, label=f"bot{i}")
    ax_top = fig.add_axes(rect, label=f"top{i}")
    axes = {"top": ax_top, "bot": ax_bot}

    for where, wn, absb, offset, color in p["spectra"]:
        assert len(wn) == len(absb)
        df = pd.DataFrame({"wn": wn, "A": np.asarray(absb) + offset})
        sns.lineplot(data=df, x="wn", y="A", ax=axes[where], color=color, lw=1.0,
                     sort=False, estimator=None, legend=False)

    for ax, key in ((ax_top, "ylim_top"), (ax_bot, "ylim_bot")):
        ax.set_xlim(*p["xlim"])
        ax.set_ylim(*p[key])
        ax.set_xlabel("")
        ax.set_ylabel("")
        ax.patch.set_alpha(0)

    ax_top.axis("off")
    for s in ("left", "right", "top"):
        ax_bot.spines[s].set_visible(False)
    ax_bot.spines["bottom"].set_color("black")
    ax_bot.spines["bottom"].set_linewidth(1.1)
    ax_bot.set_yticks([])
    ax_bot.set_xticks(p["major"])
    ax_bot.set_xticks(p["minor"], minor=True)
    ax_bot.set_xticklabels([str(v) for v in p["major"]])
    ax_bot.tick_params(axis="x", which="major", direction="out", length=5, width=1.0,
                       pad=2.7, labelsize=TICK_FS, colors="black", bottom=True)
    ax_bot.tick_params(axis="x", which="minor", direction="out", length=4, width=1.0,
                       colors="black", bottom=True)

    # absorbance scale bars
    for where, lo, hi, lo_s, hi_s, xb, xt, xl in p["bars"]:
        ax = axes[where]
        tr = ax.get_yaxis_transform()
        ax.plot([xt, xb, xb, xt], [hi, hi, lo, lo], color="black", lw=1.1,
                transform=tr, clip_on=False, solid_joinstyle="miter")
        for v, s in ((lo, lo_s), (hi, hi_s)):
            ax.text(xl, v, s, transform=tr, ha="right", va="center",
                    fontsize=SCALE_FS, color="black")

    for where, txt, x, y, italic in labels[i]:
        axes[where].text(x, y, txt, ha="center", va="center", fontsize=NUM_FS,
                         fontstyle="italic" if italic else "normal", color="black",
                         clip_on=False)

    for where, xa, ya, xb_, yb in arrows[i]:
        axes[where].annotate("", xy=(xb_, yb), xytext=(xa, ya), arrowprops=arrow_style,
                             annotation_clip=False)

    if i == 3:
        for wl, wr, wm, yl, ye, yp in braces:
            d = 0.06 * abs(wl - wr) if abs(wl - wr) > 10 else 0.15 * abs(wl - wr)
            ax_top.plot([wl, wl, wm + d, wm, wm - d, wr, wr],
                        [ye, yl, yl, yp, yl, yl, ye], color="black", lw=1.0,
                        clip_on=False)

fig.text(20 / FIG_W, 1 - 380 / FIG_H, "поглощение", rotation=90, fontsize=17,
         ha="center", va="center")
fig.text(1017 / FIG_W, 3 / FIG_H, "см", fontsize=15, ha="left", va="baseline")
fig.text(1042 / FIG_W, 17 / FIG_H, "-1", fontsize=10, ha="left", va="baseline")

fig.savefig("out.png", dpi=100, facecolor="white")
